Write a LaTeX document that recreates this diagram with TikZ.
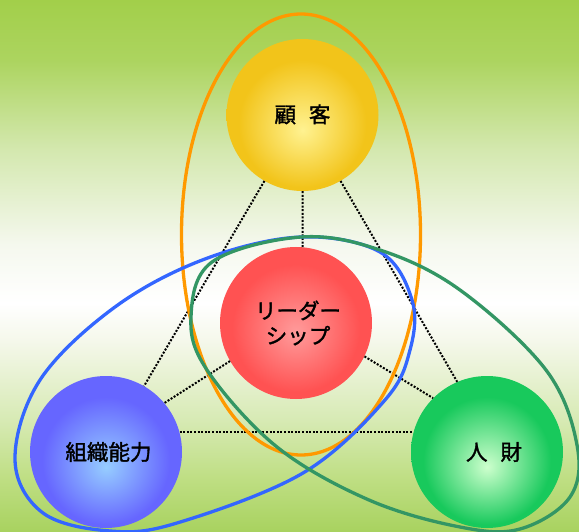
\documentclass[tikz,border=0pt]{standalone}
\usepackage{fontspec}
\newfontfamily\jp[FakeBold=1.5]{Noto Sans CJK JP}
\definecolor{b0}{RGB}{168,210,95}
\definecolor{b1}{RGB}{190,222,130}
\definecolor{b2}{RGB}{215,234,180}
\definecolor{b3}{RGB}{245,248,235}
\definecolor{b4}{RGB}{255,255,255}
\definecolor{b5}{RGB}{245,248,238}
\definecolor{b6}{RGB}{212,232,175}
\definecolor{b7}{RGB}{172,212,95}
\definecolor{b8}{RGB}{162,207,74}
\definecolor{yin}{RGB}{255,242,145}
\definecolor{yout}{RGB}{242,196,26}
\definecolor{rin}{RGB}{255,155,155}
\definecolor{rout}{RGB}{255,82,82}
\definecolor{bin}{RGB}{150,205,255}
\definecolor{bout}{RGB}{102,102,255}
\definecolor{gin}{RGB}{205,255,205}
\definecolor{gout}{RGB}{24,201,92}
\definecolor{lorange}{RGB}{255,153,0}
\definecolor{lblue}{RGB}{51,102,255}
\definecolor{lgreen}{RGB}{51,150,100}
\pgfdeclareverticalshading{bgshade}{100bp}{color(0bp)=(b0); color(25bp)=(b0); color(29.89bp)=(b1); color(35.53bp)=(b2); color(43.05bp)=(b3); color(46.5bp)=(b4); color(52bp)=(b5); color(60.9bp)=(b6); color(69.36bp)=(b7); color(75bp)=(b8); color(100bp)=(b8)}
\pgfdeclareradialshading{yball}{\pgfpoint{0bp}{-5bp}}{color(0bp)=(yin); color(21bp)=(yout); color(50bp)=(yout)}
\pgfdeclareradialshading{rball}{\pgfpoint{0bp}{-3bp}}{color(0bp)=(rin); color(21bp)=(rout); color(50bp)=(rout)}
\pgfdeclareradialshading{bball}{\pgfpoint{0bp}{-5bp}}{color(0bp)=(bin); color(21bp)=(bout); color(50bp)=(bout)}
\pgfdeclareradialshading{gball}{\pgfpoint{0bp}{-5bp}}{color(0bp)=(gin); color(21bp)=(gout); color(50bp)=(gout)}
\tikzset{
  ball/.style={circle, minimum size=152pt, inner sep=0pt, shading=#1,
    font=\jp\fontsize{21.5}{25}\selectfont, text=black, align=center},
  dots/.style={line width=2pt, dash pattern=on 2pt off 1.6pt, black},
  loop/.style={line width=3.3pt}
}
\begin{document}
\begin{tikzpicture}[x=1pt,y=-1pt]
\useasboundingbox (0,0) rectangle (579,532);
\shade[shading=bgshade] (0,0) rectangle (579,532);

\node[ball=yball] (yc) at (302.5,115) {\raisebox{3pt}{顧\hspace{0.6em}客}};
\node[ball=rball] (rc) at (296,323) {\hspace*{4pt}リーダー\\\hspace*{4pt}シップ};
\node[ball=bball] (bc) at (106,452) {\hspace*{5pt}組織能力};
\node[ball=gball] (gc) at (487,452) {\hspace*{14pt}人\hspace{0.6em}財};

\draw[dots] (yc.south) -- (rc.85);
\draw[dots] (yc.-120) -- (bc.60);
\draw[dots] (yc.-60) -- (gc.113);
\draw[dots] (bc.15) -- (gc.165);
\draw[dots] (rc.210) -- (bc.40);
\draw[dots] (rc.-26) -- (gc.135);

\draw[loop, lorange] (301,234.5) ellipse [x radius=119.5, y radius=220.5];
\draw[loop, lblue] plot[smooth cycle, tension=0.6] coordinates {(301,237) (380,252) (412,300) (410,350) (385,400) (303,473) (177,523) (110,531) (43,513) (15,460) (40,380) (115,307) (205,259)};
\draw[loop, lgreen] plot[smooth cycle, tension=0.6] coordinates {(301,237) (380,250) (460,290) (546,370) (577,445) (570,497) (520,529) (460,527) (369,500) (277,447) (207,370) (191,317) (212,262)};
\end{tikzpicture}
\end{document}
